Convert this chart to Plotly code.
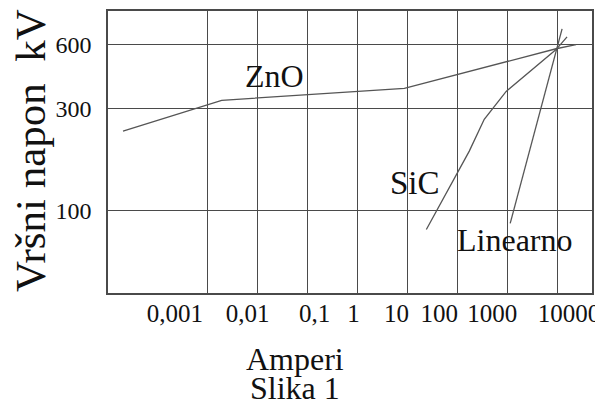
import plotly.graph_objects as go

# ---- data (amperes, kV) ----
zno_i = [2.0e-5, 1.9e-3, 8.7, 9550, 24000]
zno_v = [236, 329, 374, 574, 600]

sic_i = [24, 174, 347, 955, 9550, 15850]
sic_v = [81.5, 190, 268, 362, 569, 653]

lin_i = [1150, 12600]
lin_v = [87, 712]

# tick labels on the current axis and where they sit (log10 units)
x_tick_labels = ["0,001", "0,01", "0,1", "1", "10", "100", "1000", "10000"]
x_tick_label_pos = [-3.66, -2.2, -0.86, -0.08, 0.78, 1.64, 2.7, 4.24]
x_grid_decades = [1e-3, 1e-2, 1e-1, 1, 10, 100, 1000, 10000]

y_tick_vals = [100, 300, 600]
y_tick_labels = ["100", "300", "600"]

SERIF = "Liberation Serif, Times New Roman, serif"
INK = "#111111"
LINE = "#555555"
GRID = "#4a4a4a"

fig = go.Figure()
for xs, ys, name in [(zno_i, zno_v, "ZnO"), (sic_i, sic_v, "SiC"), (lin_i, lin_v, "Linearno")]:
    fig.add_trace(go.Scatter(x=xs, y=ys, mode="lines", name=name,
                             line=dict(color=LINE, width=1.3), showlegend=False))

# page body has an 8px margin, so the figure is laid out 8px in from the corner
fig.update_layout(
    width=595, height=400,
    margin=dict(l=100, r=11, t=1, b=115),
    paper_bgcolor="white", plot_bgcolor="white",
    font=dict(family=SERIF, color=INK),
)

fig.update_xaxes(
    type="log", range=[-5, 4.7],
    tickmode="array", tickvals=[10 ** p for p in x_tick_label_pos], ticktext=x_tick_labels,
    showgrid=False, ticks="", zeroline=False,
    showline=True, linecolor=GRID, linewidth=1.5, mirror=True,
    tickfont=dict(family=SERIF, size=25, color=INK),
    ticklabelstandoff=-3,
    minor=dict(tickmode="array", tickvals=x_grid_decades, showgrid=True,
               gridcolor=GRID, gridwidth=1.3, ticks=""),
)
fig.update_yaxes(
    type="log", range=[1.613, 2.936],
    tickmode="array", tickvals=y_tick_vals, ticktext=y_tick_labels,
    showgrid=True, gridcolor=GRID, gridwidth=1.3, ticks="", zeroline=False,
    showline=True, linecolor=GRID, linewidth=1.5, mirror=True,
    tickfont=dict(family=SERIF, size=24, color=INK),
    ticklabelstandoff=10,
)

# texts
ann = [
    dict(text="ZnO", x=-1.66, y=2.629, size=32),
    dict(text="SiC", x=1.16, y=2.130, size=33),
    dict(text="Linearno", x=3.16, y=1.860, size=32),
]
for a in ann:
    fig.add_annotation(text=a["text"], x=a["x"], y=a["y"], xref="x", yref="y",
                       showarrow=False, xanchor="center", yanchor="middle",
                       font=dict(family=SERIF, size=a["size"], color=INK))

fig.add_annotation(text="Vršni napon  kV", textangle=-90, x=(30 - 108) / 484, y=0.5035,
                   xref="paper", yref="paper", showarrow=False, xanchor="center", yanchor="middle",
                   font=dict(family=SERIF, size=43, color=INK))
fig.add_annotation(text="Amperi", x=(295 - 108) / 484, y=-0.233, xref="paper", yref="paper",
                   showarrow=False, xanchor="center", yanchor="middle",
                   font=dict(family=SERIF, size=32, color=INK))
fig.add_annotation(text="Slika 1", x=(295 - 108) / 484, y=-0.338, xref="paper", yref="paper",
                   showarrow=False, xanchor="center", yanchor="middle",
                   font=dict(family=SERIF, size=32, color=INK))

fig.write_html("out.html")
